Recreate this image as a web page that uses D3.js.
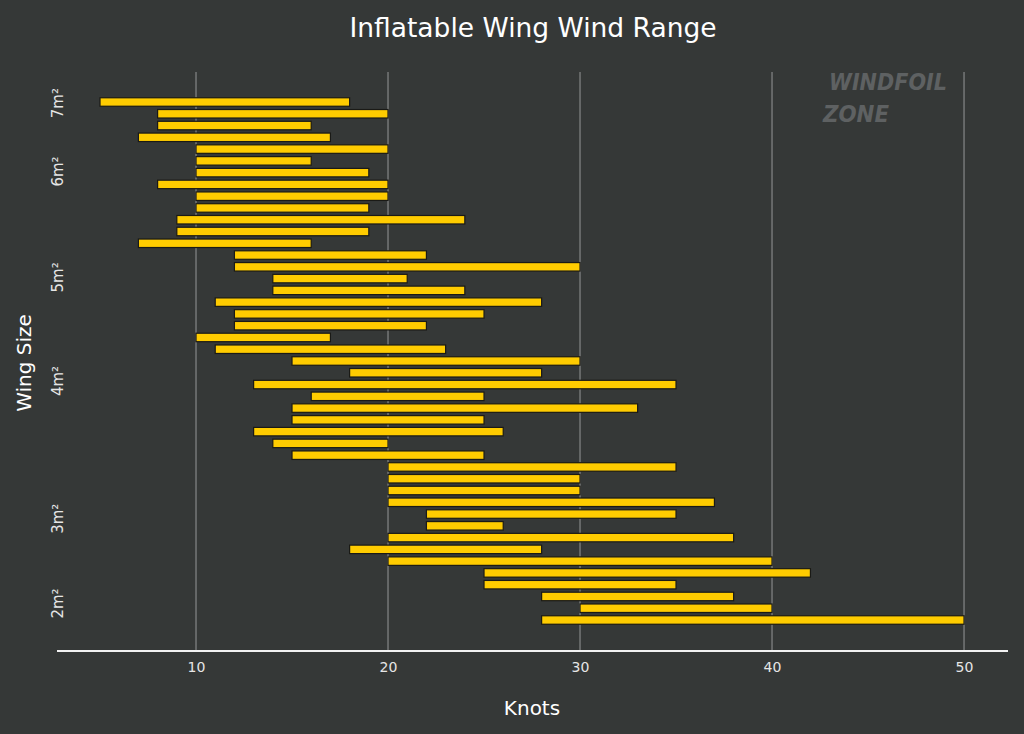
<!DOCTYPE html>
<html>
<head>
<meta charset="utf-8">
<script src="https://cdn.jsdelivr.net/npm/d3@7"></script>
<style>
  html, body { margin: 0; padding: 0; background: #353837; }
  svg { display: block; }
</style>
</head>
<body>
<script>
// ---- data ----
const windMin = [5, 8, 8, 7, 10, 10, 10, 8, 10, 10, 9, 9, 7, 12, 12, 14, 14, 11, 12, 12, 10, 11, 15, 18, 13, 16, 15, 15, 13, 14, 15, 20, 20, 20, 20, 22, 22, 20, 18, 20, 25, 25, 28, 30, 28];
const windMax = [18, 20, 16, 17, 20, 16, 19, 20, 20, 19, 24, 19, 16, 22, 30, 21, 24, 28, 25, 22, 17, 23, 30, 28, 35, 25, 33, 25, 26, 20, 25, 35, 30, 30, 37, 35, 26, 38, 28, 40, 42, 35, 38, 40, 50];
const sizeLabels = ["7m\u00B2", "6m\u00B2", "5m\u00B2", "4m\u00B2", "3m\u00B2", "2m\u00B2"];
const sizeLabelAt = [0.1, 5.9, 14.9, 23.7, 35.4, 42.6];   // position in wing (row) index units
const knotTicks = [10, 20, 30, 40, 50];

const W = 1024, H = 734;
const font = "'DejaVu Sans', 'Open Sans', sans-serif";

const svg = d3.select("body").append("svg").attr("width", W).attr("height", H);
svg.append("rect").attr("width", W).attr("height", H).attr("fill", "#353837");

const rows = d3.range(windMin.length);
const x = d3.scaleLinear().domain([2.76, 52.29]).range([57, 1008]);
const step = 11.773;
const y = d3.scaleBand().domain(rows).range([102 - step / 2, 620 + step / 2])
  .paddingInner(0.28).paddingOuter(0.14);
const yLab = d3.scaleLinear().domain([0, rows.length - 1]).range([102, 620]);

// grid
svg.append("g").selectAll("line").data(knotTicks).join("line")
  .attr("x1", d => x(d)).attr("x2", d => x(d))
  .attr("y1", 72).attr("y2", 651)
  .attr("stroke", "#7a7c7c").attr("stroke-width", 1.4);

// watermark
const wm = svg.append("g").attr("fill", "#5e6162").attr("font-family", font)
  .attr("font-weight", "bold").attr("font-style", "italic");
wm.append("text").attr("x", 829).attr("y", 90).attr("font-size", 23)
  .attr("textLength", 118).attr("lengthAdjust", "spacingAndGlyphs").text("WINDFOIL");
wm.append("text").attr("x", 823).attr("y", 122).attr("font-size", 23)
  .attr("textLength", 66).attr("lengthAdjust", "spacingAndGlyphs").text("ZONE");

// bars
svg.append("g").selectAll("rect").data(rows).join("rect")
  .attr("x", i => x(windMin[i]))
  .attr("width", i => x(windMax[i]) - x(windMin[i]))
  .attr("y", i => y(i))
  .attr("height", y.bandwidth())
  .attr("fill", "#ffcc00")
  .attr("stroke", "#1a1a16").attr("stroke-width", 1.2);

// x axis
const xAxis = d3.axisBottom(x).tickValues(knotTicks).tickSize(0).tickPadding(11);
const gx = svg.append("g").attr("transform", "translate(0,651)").call(xAxis);
gx.select(".domain").attr("stroke", "#f2f2f2").attr("stroke-width", 2).attr("d", "M57,0H1008");
gx.selectAll("text").attr("fill", "#e6e6e6").attr("font-size", 14).attr("font-family", font);

// y labels
svg.append("g").selectAll("text").data(sizeLabels).join("text")
  .attr("transform", (d, i) => `translate(63,${yLab(sizeLabelAt[i])}) rotate(-90)`)
  .attr("text-anchor", "middle")
  .attr("fill", "#e6e6e6").attr("font-size", 15).attr("font-family", font)
  .text(d => d);

// titles
svg.append("text").attr("x", 533).attr("y", 37).attr("text-anchor", "middle")
  .attr("fill", "#ffffff").attr("font-size", 26.5).attr("font-family", font)
  .text("Inflatable Wing Wind Range");
svg.append("text").attr("x", 532).attr("y", 715).attr("text-anchor", "middle")
  .attr("fill", "#ffffff").attr("font-size", 20).attr("font-family", font)
  .text("Knots");
svg.append("text").attr("transform", "translate(31,363) rotate(-90)").attr("text-anchor", "middle")
  .attr("fill", "#ffffff").attr("font-size", 20).attr("font-family", font)
  .text("Wing Size");
</script>
</body>
</html>
